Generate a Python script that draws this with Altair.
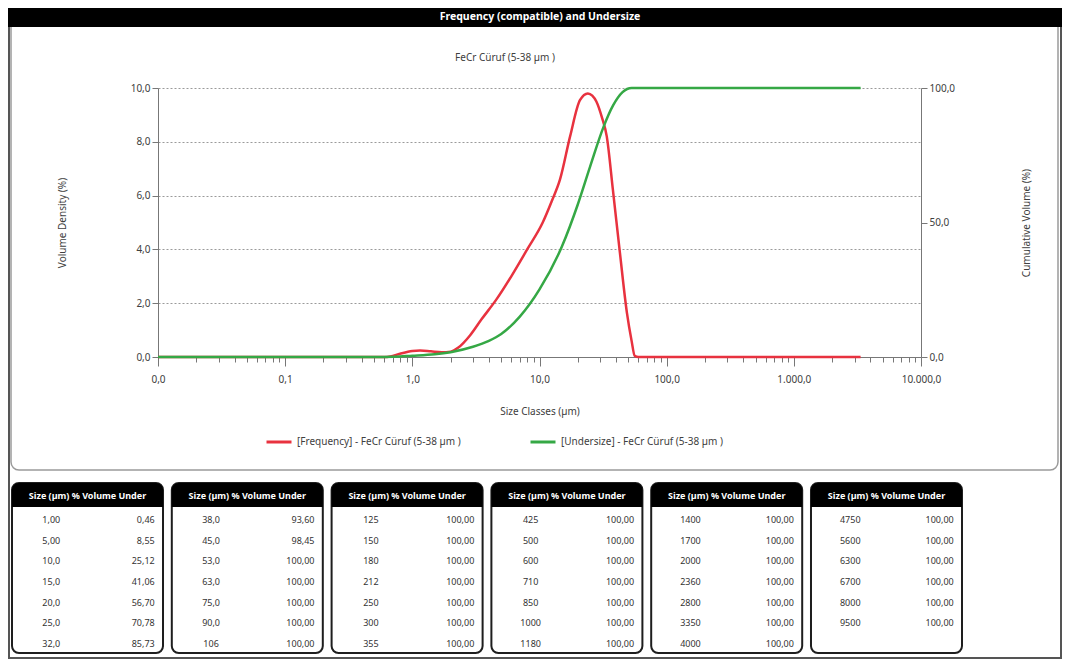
import altair as alt
import pandas as pd

# ---------------- data ----------------
freq_size = [0.01, 0.6, 0.67, 0.8, 1.0, 1.15, 1.4, 1.7, 2.0, 2.3,
             2.84, 3.5, 4.6, 6.0, 8.0, 10.6, 12.5, 14.5, 17.4, 20.8,
             24.0, 26.0, 28.0, 31.0, 33.8, 37.8, 42.9, 48.7, 53.0, 56.0,
             60.0, 3350.0]
freq_val = [0, 0, 0.02, 0.12, 0.22, 0.24, 0.21, 0.18, 0.2, 0.35,
            0.8, 1.4, 2.15, 3.0, 4.0, 5.0, 5.8, 6.6, 8.2, 9.55,
            9.8, 9.72, 9.5, 8.9, 8.2, 6.2, 3.87, 1.64, 0.6, 0.05,
            0, 0]

cum_size = [0.01, 0.6, 1.0, 1.5, 2.0, 3.0, 4.0, 5.0, 7.0, 10.0, 15.0,
            20.0, 25.0, 32.0, 38.0, 45.0, 53.0, 3350.0]
cum_val = [0, 0, 0.46, 1.0, 1.8, 3.8, 6.0, 8.55, 15.0, 25.12, 41.06,
           56.70, 70.78, 85.73, 93.60, 98.45, 100, 100]

freq_name = "[Frequency] - FeCr Cüruf (5-38 µm )"
cum_name = "[Undersize] - FeCr Cüruf (5-38 µm )"

x_major_values = [0.01, 0.1, 1, 10, 100, 1000, 10000]
x_major_labels = ["0,0", "0,1", "1,0", "10,0", "100,0", "1.000,0", "10.000,0"]
y_left_values = [0, 2, 4, 6, 8, 10]
y_right_values = [0, 50, 100]

table_header = "Size (µm)  % Volume Under"
table_sizes = ["1,00", "5,00", "10,0", "15,0", "20,0", "25,0", "32,0",
               "38,0", "45,0", "53,0", "63,0", "75,0", "90,0", "106",
               "125", "150", "180", "212", "250", "300", "355",
               "425", "500", "600", "710", "850", "1000", "1180",
               "1400", "1700", "2000", "2360", "2800", "3350", "4000",
               "4750", "5600", "6300", "6700", "8000", "9500"]
table_pcts = ["0,46", "8,55", "25,12", "41,06", "56,70", "70,78", "85,73",
              "93,60", "98,45"] + ["100,00"] * 32

title_text = "Frequency (compatible) and Undersize"
subtitle_text = "FeCr Cüruf (5-38 µm )"

# ---------------- styling ----------------
FONT = "Noto Sans"
RED = "#e8323f"
GREEN = "#35a845"
TXT = "#404040"
W, H = 763, 269

# all log-scale tick positions (1..9 per decade)
x_ticks = []
for d in range(-2, 4):
    for m in range(1, 10):
        x_ticks.append(float(f"{m}e{d}"))
x_ticks.append(10000.0)

lab_expr = ""
for v, lab in zip(x_major_values, x_major_labels):
    lab_expr += f"abs(datum.value/{v} - 1) < 1e-6 ? '{lab}' : "
lab_expr += "''"
major_test = "abs(log(datum.value)/LN10 - round(log(datum.value)/LN10)) < 1e-6"

x_axis = alt.Axis(
    values=x_ticks, labelExpr=lab_expr, labelOverlap=False, labelFlush=False,
    tickSize={"condition": {"test": major_test, "value": 9}, "value": 5},
    title="Size Classes (µm)", titlePadding=22, labelPadding=8,
    domainColor="#777", tickColor="#777", grid=False,
)
x_enc = alt.X("size:Q", scale=alt.Scale(type="log", domain=[0.01, 10000], nice=False),
              axis=x_axis)

color_enc = alt.Color(
    "series:N",
    scale=alt.Scale(domain=[freq_name, cum_name], range=[RED, GREEN]),
    legend=alt.Legend(orient="none", legendX=107, legendY=340, direction="horizontal",
                      title=None, symbolType="stroke", symbolStrokeWidth=3,
                      symbolSize=625, columnPadding=63, labelLimit=400,
                      labelFontSize=10, labelColor=TXT, labelFont=FONT),
)

freq_df = pd.DataFrame({"size": freq_size, "val": freq_val, "series": freq_name})
cum_df = pd.DataFrame({"size": cum_size, "val": cum_val, "series": cum_name})

freq = alt.Chart(freq_df).mark_line(interpolate="monotone", strokeWidth=2.5).encode(
    x=x_enc,
    y=alt.Y("val:Q", scale=alt.Scale(domain=[0, 10], nice=False),
            axis=alt.Axis(values=y_left_values, orient="left",
                          labelExpr="replace(format(datum.value, '.1f'), '.', ',')",
                          title="Volume Density (%)", titlePadding=63,
                          grid=True, gridDash=[2, 2], gridColor="#9a9a9a",
                          tickSize=6, domainColor="#777", tickColor="#777")),
    color=color_enc,
)
cum = alt.Chart(cum_df).mark_line(interpolate="monotone", strokeWidth=2.5).encode(
    x=x_enc,
    y=alt.Y("val:Q", scale=alt.Scale(domain=[0, 100], nice=False),
            axis=alt.Axis(values=y_right_values, orient="right",
                          labelExpr="replace(format(datum.value, '.1f'), '.', ',')",
                          title="Cumulative Volume (%)", titlePadding=77, titleAngle=270,
                          grid=False, tickSize=6, domainColor="#777", tickColor="#777")),
    color=color_enc,
)
lines = alt.layer(freq, cum).resolve_scale(y="independent")

# ---------------- decorations (frames) ----------------
one = pd.DataFrame({"k": [0]})


def deco_rect(x, x2, y, y2, **kw):
    return alt.Chart(one).mark_rect(**kw).encode(
        x=alt.value(x), x2=alt.value(x2), y=alt.value(y), y2=alt.value(y2))


outer = deco_rect(-149, 903, -79, 570, fill=None, stroke="#555555", strokeWidth=2)
panel = deco_rect(-147, 900, -70, 382, fill=None, stroke="#9a9a9a", strokeWidth=1.5,
                  cornerRadius=8)
header_bar = deco_rect(-150, 904, -80, -61, fill="black", stroke=None)
header_txt = alt.Chart(one).mark_text(
    text=title_text, color="white", fontWeight="bold", fontSize=10.5, font=FONT,
    baseline="middle", align="center").encode(x=alt.value(382), y=alt.value(-71))
subtitle = alt.Chart(one).mark_text(
    text=subtitle_text, color=TXT, fontSize=10, font=FONT,
    baseline="middle", align="center").encode(x=alt.value(347), y=alt.value(-30))

# ---------------- tables ----------------
tab_df = pd.DataFrame({
    "t": [i // 7 for i in range(len(table_sizes))],
    "r": [i % 7 for i in range(len(table_sizes))],
    "size": table_sizes,
    "pct": table_pcts,
})
box_df = pd.DataFrame({"t": list(range(6)), "head": [table_header] * 6})

band = alt.Scale(type="band", domain=list(range(6)), range=[-146, 804],
                 paddingInner=0.055, paddingOuter=0)
row_scale = alt.Scale(type="point", domain=list(range(7)), range=[432, 556], padding=0)

boxes = alt.Chart(box_df).mark_rect(fill="white", stroke="#1e1e1e", strokeWidth=2,
                                    cornerRadius=7).encode(
    x=alt.X("t:O", scale=band, axis=None), y=alt.value(395), y2=alt.value(565))
head_rect = alt.Chart(box_df).mark_rect(fill="black", cornerRadiusTopLeft=7,
                                        cornerRadiusTopRight=7).encode(
    x=alt.X("t:O", scale=band, axis=None), y=alt.value(395), y2=alt.value(419))
head_txt = alt.Chart(box_df).mark_text(color="white", fontWeight="bold", fontSize=9,
                                       font=FONT, baseline="middle").encode(
    x=alt.X("t:O", scale=band, axis=None, bandPosition=0.5), y=alt.value(408),
    text="head:N")
left_txt = alt.Chart(tab_df).mark_text(color="#333", fontSize=9, font=FONT,
                                       align="center", baseline="middle").encode(
    x=alt.X("t:O", scale=band, axis=None, bandPosition=0.26),
    y=alt.Y("r:O", scale=row_scale, axis=None), text="size:N")
right_txt = alt.Chart(tab_df).mark_text(color="#333", fontSize=9, font=FONT,
                                        align="right", baseline="middle").encode(
    x=alt.X("t:O", scale=band, axis=None, bandPosition=0.945),
    y=alt.Y("r:O", scale=row_scale, axis=None), text="pct:N")
tables = alt.layer(boxes, head_rect, head_txt, left_txt, right_txt)

chart = alt.layer(outer, panel, header_bar, header_txt, subtitle, lines, tables).resolve_scale(
    x="independent", y="independent"
).properties(width=W, height=H, padding=0, background="white").configure_view(
    stroke=None
).configure_axis(
    labelFont=FONT, titleFont=FONT, labelFontSize=10, titleFontSize=10,
    labelColor=TXT, titleColor=TXT, titleFontWeight="normal"
)

chart.save("out.html", embed_options={"renderer": "svg", "actions": False})
